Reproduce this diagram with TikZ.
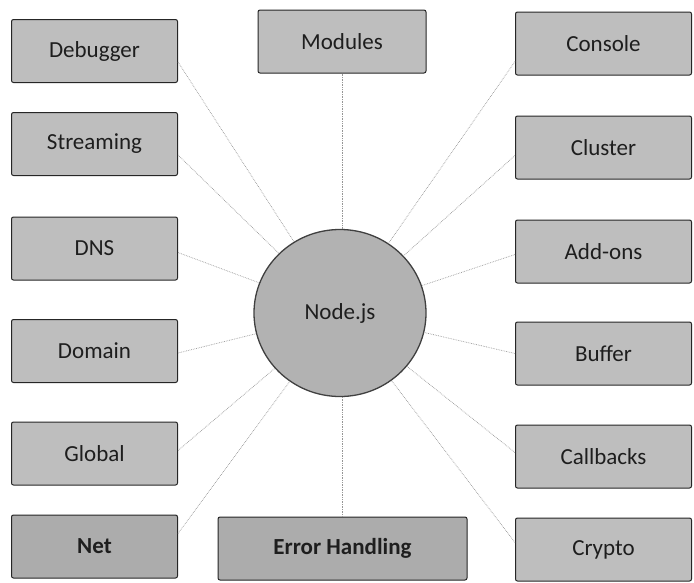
\documentclass[tikz,border=0pt]{standalone}
\usepackage{fontspec}
\setmainfont{Carlito}
\usetikzlibrary{shapes.geometric}

\definecolor{boxgray}{RGB}{190,190,190}
\definecolor{boxdark}{RGB}{172,172,172}
\definecolor{hubgray}{RGB}{178,178,178}
\definecolor{linkgray}{RGB}{150,150,150}
\definecolor{inkgray}{RGB}{30,30,30}

\tikzset{
  module/.style={draw=black!85, line width=1pt, fill=boxgray, rounded corners=2pt,
    minimum height=63pt, inner sep=0pt, text=inkgray,
    font=\fontsize{23}{27}\selectfont},
  sidebox/.style={module, minimum width=166pt},
  rightbox/.style={module, minimum width=176pt},
  darkbox/.style={fill=boxdark, font=\fontsize{23}{27}\selectfont\bfseries},
  hub/.style={ellipse, draw=black!75, line width=1.3pt, fill=hubgray,
    minimum width=172pt, minimum height=167pt, text=inkgray,
    font=\fontsize{23}{27}\selectfont},
  link/.style={draw=linkgray, densely dotted, line width=0.7pt}
}

\begin{document}
\begin{tikzpicture}[x=1pt, y=-1pt]
  \useasboundingbox (0,0) rectangle (694,582);

  % central hub
  \node[hub] (nodejs) at (340,313) {Node.js};

  % left column
  \node[sidebox] (debugger)  at (94.5,51)   {Debugger};
  \node[sidebox] (streaming) at (94.5,144)  {Streaming};
  \node[sidebox] (dns)       at (94.5,248.5) {DNS};
  \node[sidebox] (domain)    at (94.5,351)  {Domain};
  \node[sidebox] (global)    at (94.5,453.5) {Global};
  \node[sidebox, darkbox] (net) at (94.5,546.5) {Net};

  % middle column
  \node[module, minimum width=168pt] (modules) at (342,41.5) {Modules};
  \node[module, darkbox, minimum width=249pt] (errors) at (342.5,548.5) {Error Handling};

  % right column
  \node[rightbox] (console)   at (603.5,43.5)  {Console};
  \node[rightbox] (cluster)   at (603.5,147.5) {Cluster};
  \node[rightbox] (addons)    at (603.5,251.5) {Add-ons};
  \node[rightbox] (buffer)    at (603.5,353.5) {Buffer};
  \node[rightbox] (callbacks) at (603.5,456.5) {Callbacks};
  \node[rightbox] (crypto)    at (603.5,549.5) {Crypto};

  % connectors to the hub
  \draw[link] ([yshift=-11pt]debugger.east)  -- (nodejs);
  \draw[link] ([yshift=-11pt]streaming.east) -- (nodejs);
  \draw[link] ([yshift=-4pt]dns.east)        -- (nodejs);
  \draw[link] ([yshift=-2pt]domain.east)     -- (nodejs);
  \draw[link] ([yshift=3pt]global.east)      -- (nodejs);
  \draw[link] ([yshift=13pt]net.east)        -- (nodejs);

  \draw[link] (modules.south) -- (modules.south |- nodejs.north);
  \draw[link] (errors.north)  -- (errors.north |- nodejs.south);

  \draw[link] ([yshift=-18pt]console.west)  -- (nodejs);
  \draw[link] ([yshift=-8pt]cluster.west)   -- (nodejs);
  \draw[link] ([yshift=-3pt]addons.west)    -- (nodejs);
  \draw[link] (buffer.west)                 -- (nodejs);
  \draw[link] ([yshift=4pt]callbacks.west)  -- (nodejs);
  \draw[link] ([yshift=7pt]crypto.west)     -- (nodejs);
\end{tikzpicture}
\end{document}
